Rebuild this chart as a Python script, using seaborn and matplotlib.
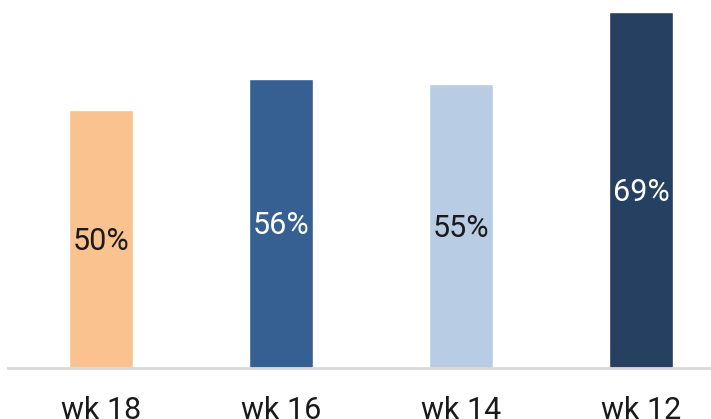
import matplotlib
matplotlib.use("Agg")
import matplotlib.pyplot as plt
import seaborn as sns
import pandas as pd

categories = ["wk 18", "wk 16", "wk 14", "wk 12"]
values = [50, 56, 55, 69]
bar_colors = ["#F9C28F", "#366092", "#B8CCE4", "#254061"]
label_colors = ["#1a1a1a", "#ffffff", "#1a1a1a", "#ffffff"]

sns.set_theme(style="white")
plt.rcParams['font.family'] = ['Roboto', 'DejaVu Sans']

df = pd.DataFrame({"week": categories, "value": values})

fig = plt.figure(figsize=(7.11, 4.19), dpi=100)
ax = fig.add_axes([8/711, (419-368)/419, (711-8)/711, 368/419])
sns.barplot(data=df, x="week", y="value", hue="week", palette=bar_colors,
            order=categories, hue_order=categories, width=0.356, legend=False,
            saturation=1, ax=ax)

ax.set_xlim((8-101)/180, (711-101)/180)
ax.set_ylim(0, 368/5.16)
for i, (v, c) in enumerate(zip(values, label_colors)):
    ax.text(i, v/2 - 0.4, f"{v}%", ha="center", va="center", fontsize=22, color=c)

for s in ["top", "right", "left"]:
    ax.spines[s].set_visible(False)
ax.spines["bottom"].set_color("#D9D9D9")
ax.spines["bottom"].set_linewidth(2)
ax.set_yticks([])
ax.set_xlabel("")
ax.set_ylabel("")
ax.tick_params(axis="x", length=0, pad=20, labelsize=22, labelcolor="#1a1a1a")

fig.savefig("out.png", dpi=100)
